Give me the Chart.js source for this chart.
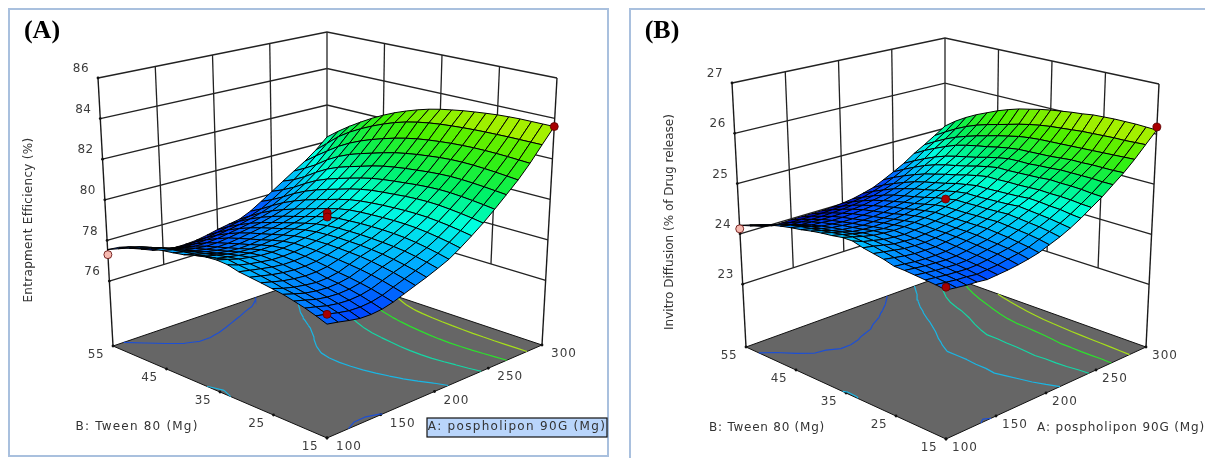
<!DOCTYPE html>
<html lang="en">
<head>
  <meta charset="UTF-8" />
  <title>Response surfaces</title>
  <script src="https://cdn.jsdelivr.net/npm/chart.js"></script>
  <style>
    html, body { margin: 0; padding: 0; background: #fff; overflow: hidden; }
    body { width: 1205px; height: 458px; position: relative; }
    canvas { position: absolute; top: 0; }
    #chartA { left: 0; }
    #chartB { left: 618px; }
    .frame { position: absolute; box-sizing: border-box; border: 0 solid #a9c0de; }
    #frameA { left: 8px; top: 8px; width: 601px; height: 449px; border-width: 2px; }
    #frameB { left: 629px; top: 8px; width: 576px; height: 450px; border-top-width: 2px; border-left-width: 2px; }
  </style>
</head>
<body>
  <div class="frame" id="frameA"></div>
  <div class="frame" id="frameB"></div>
  <canvas id="chartA" width="618" height="458"></canvas>
  <canvas id="chartB" width="587" height="458"></canvas>

  <script>
    // factor levels of the mesh
    const phospholipon = [100,110,120,130,140,150,160,170,180,190,200,210,220,230,240,250,260,270,280,290,300];
    const tween = [15,17,19,21,23,25,27,29,31,33,35,37,39,41,43,45,47,49,51,53,55];

    // tick labels
    const phosphoTicks = [100,150,200,250,300];
    const tweenTicks = [15,25,35,45,55];
    const entrapTicks = [76,78,80,82,84,86];
    const diffusionTicks = [23,24,25,26,27];

    // Entrapment efficiency, one row per tween level, one column per phospholipon level
    const entrapment = [
      [77.68,77.60,77.50,77.42,77.42,77.48,77.62,77.82,78.02,78.22,78.45,78.70,79.05,79.45,79.88,80.37,80.90,81.45,82.10,82.85,83.60],
      [77.87,77.78,77.67,77.59,77.58,77.63,77.76,77.96,78.16,78.36,78.58,78.82,79.16,79.54,79.97,80.44,80.95,81.50,82.13,82.85,83.60],
      [78.04,77.93,77.81,77.74,77.72,77.77,77.89,78.09,78.29,78.47,78.69,78.93,79.25,79.62,80.04,80.50,81.00,81.55,82.16,82.85,83.60],
      [78.18,78.06,77.93,77.86,77.84,77.88,77.99,78.19,78.39,78.57,78.78,79.02,79.33,79.68,80.10,80.55,81.04,81.59,82.18,82.85,83.60],
      [78.31,78.17,78.04,77.97,77.94,77.98,78.08,78.28,78.48,78.65,78.84,79.09,79.39,79.73,80.15,80.59,81.07,81.62,82.19,82.84,83.58],
      [78.40,78.25,78.14,78.07,78.02,78.05,78.15,78.35,78.55,78.71,78.88,79.13,79.42,79.75,80.17,80.60,81.08,81.63,82.19,82.83,83.55],
      [78.49,78.37,78.26,78.19,78.15,78.17,78.25,78.41,78.59,78.75,78.91,79.15,79.43,79.75,80.16,80.58,81.06,81.62,82.17,82.81,83.50],
      [78.57,78.47,78.37,78.30,78.26,78.27,78.33,78.46,78.62,78.77,78.93,79.15,79.42,79.73,80.13,80.54,81.02,81.58,82.14,82.78,83.44],
      [78.65,78.56,78.47,78.39,78.34,78.35,78.40,78.50,78.64,78.78,78.93,79.14,79.40,79.70,80.08,80.48,80.96,81.52,82.09,82.74,83.37],
      [78.80,78.63,78.53,78.46,78.40,78.40,78.44,78.52,78.64,78.77,78.92,79.11,79.37,79.66,80.03,80.42,80.90,81.45,82.03,82.69,83.28],
      [78.85,78.72,78.58,78.50,78.43,78.42,78.45,78.52,78.62,78.74,78.88,79.07,79.32,79.60,79.97,80.35,80.82,81.36,81.95,82.62,83.18],
      [78.82,78.60,78.51,78.42,78.37,78.37,78.39,78.45,78.54,78.67,78.80,78.98,79.22,79.51,79.87,80.26,80.72,81.25,81.84,82.52,83.05],
      [78.72,78.53,78.42,78.31,78.25,78.23,78.26,78.33,78.42,78.55,78.67,78.84,79.07,79.37,79.73,80.12,80.58,81.10,81.70,82.39,82.88],
      [78.58,78.45,78.31,78.18,78.11,78.08,78.11,78.18,78.28,78.40,78.52,78.67,78.90,79.20,79.56,79.96,80.41,80.93,81.53,82.22,82.68],
      [78.50,78.38,78.22,78.07,77.98,77.94,77.97,78.04,78.14,78.25,78.36,78.51,78.73,79.03,79.39,79.79,80.24,80.76,81.34,82.00,82.45],
      [78.43,78.30,78.12,77.95,77.85,77.80,77.82,77.90,78.00,78.10,78.20,78.35,78.55,78.85,79.20,79.60,80.05,80.56,81.12,81.75,82.18],
      [78.33,78.20,78.01,77.84,77.72,77.66,77.67,77.74,77.83,77.92,78.02,78.17,78.35,78.63,78.97,79.36,79.80,80.30,80.85,81.46,81.87],
      [78.18,78.06,77.87,77.69,77.56,77.48,77.48,77.53,77.62,77.71,77.81,77.95,78.12,78.37,78.68,79.04,79.47,79.97,80.52,81.13,81.52],
      [78.00,77.90,77.71,77.52,77.36,77.27,77.25,77.29,77.36,77.46,77.56,77.69,77.84,78.05,78.34,78.68,79.08,79.55,80.12,80.73,81.14],
      [77.78,77.71,77.51,77.32,77.13,77.02,76.98,77.00,77.05,77.15,77.27,77.39,77.50,77.70,78.02,78.38,78.75,79.20,79.70,80.22,80.72],
      [77.55,77.50,77.30,77.10,76.88,76.75,76.68,76.68,76.72,76.82,76.95,77.05,77.15,77.40,77.75,78.12,78.50,78.88,79.25,79.70,80.25]
    ];

    // In vitro diffusion, same layout
    const diffusion = [
      [24.33,24.31,24.29,24.28,24.26,24.28,24.30,24.33,24.37,24.42,24.50,24.58,24.68,24.80,24.94,25.08,25.25,25.42,25.62,25.85,26.08],
      [24.36,24.34,24.32,24.31,24.29,24.31,24.33,24.37,24.41,24.46,24.54,24.62,24.71,24.82,24.95,25.09,25.25,25.41,25.61,25.84,26.09],
      [24.38,24.36,24.34,24.33,24.32,24.33,24.36,24.40,24.44,24.49,24.57,24.65,24.74,24.85,24.97,25.11,25.26,25.41,25.60,25.83,26.10],
      [24.40,24.38,24.36,24.35,24.34,24.35,24.38,24.42,24.46,24.52,24.59,24.67,24.76,24.86,24.98,25.12,25.26,25.41,25.59,25.83,26.10],
      [24.42,24.40,24.38,24.37,24.36,24.37,24.40,24.44,24.48,24.54,24.61,24.69,24.78,24.88,24.98,25.12,25.26,25.40,25.58,25.82,26.10],
      [24.43,24.41,24.39,24.38,24.38,24.39,24.42,24.46,24.50,24.56,24.63,24.71,24.80,24.89,24.99,25.13,25.26,25.40,25.57,25.81,26.09],
      [24.49,24.46,24.43,24.41,24.41,24.41,24.44,24.47,24.51,24.56,24.62,24.70,24.78,24.87,24.98,25.11,25.24,25.38,25.56,25.80,26.08],
      [24.53,24.50,24.47,24.44,24.43,24.43,24.45,24.48,24.51,24.56,24.62,24.69,24.77,24.86,24.97,25.10,25.23,25.36,25.55,25.78,26.05],
      [24.57,24.54,24.50,24.46,24.45,24.44,24.46,24.48,24.52,24.56,24.61,24.69,24.76,24.85,24.97,25.09,25.21,25.35,25.54,25.76,26.03],
      [24.63,24.56,24.52,24.48,24.46,24.45,24.47,24.49,24.52,24.56,24.61,24.68,24.75,24.84,24.96,25.08,25.21,25.34,25.53,25.74,26.00],
      [24.63,24.58,24.53,24.49,24.47,24.46,24.47,24.49,24.52,24.56,24.61,24.68,24.75,24.84,24.96,25.08,25.20,25.33,25.51,25.71,25.97],
      [24.60,24.56,24.51,24.47,24.45,24.43,24.44,24.46,24.49,24.53,24.58,24.64,24.72,24.80,24.92,25.04,25.16,25.30,25.48,25.67,25.93],
      [24.58,24.53,24.48,24.43,24.41,24.40,24.41,24.42,24.45,24.49,24.53,24.60,24.67,24.76,24.87,24.99,25.11,25.26,25.43,25.62,25.88],
      [24.55,24.50,24.44,24.40,24.38,24.36,24.37,24.38,24.40,24.44,24.48,24.54,24.62,24.70,24.81,24.93,25.05,25.21,25.38,25.56,25.83],
      [24.51,24.47,24.41,24.37,24.35,24.33,24.33,24.34,24.36,24.40,24.44,24.49,24.57,24.65,24.76,24.88,25.00,25.17,25.32,25.50,25.76],
      [24.48,24.44,24.38,24.33,24.31,24.29,24.29,24.30,24.32,24.35,24.39,24.44,24.52,24.60,24.70,24.83,24.95,25.12,25.26,25.44,25.68],
      [24.44,24.40,24.33,24.28,24.27,24.25,24.25,24.26,24.28,24.30,24.34,24.39,24.46,24.54,24.64,24.77,24.89,25.06,25.19,25.37,25.58],
      [24.39,24.34,24.27,24.22,24.21,24.20,24.20,24.20,24.22,24.24,24.28,24.32,24.39,24.46,24.56,24.69,24.81,24.97,25.11,25.28,25.48],
      [24.32,24.27,24.20,24.15,24.14,24.13,24.13,24.14,24.15,24.17,24.20,24.24,24.30,24.37,24.47,24.59,24.71,24.87,25.01,25.17,25.36],
      [24.25,24.19,24.12,24.07,24.06,24.06,24.06,24.06,24.07,24.08,24.11,24.14,24.20,24.27,24.37,24.48,24.60,24.76,24.89,25.04,25.22],
      [24.17,24.10,24.03,23.98,23.97,23.98,23.98,23.98,23.98,23.99,24.01,24.04,24.09,24.15,24.25,24.36,24.48,24.63,24.76,24.90,25.05]
    ];

    // design points (phospholipon, tween, response)
    const designA = [300,200,200,100,100];
    const designB = [15,35,35,15,55];
    const designEntrap = [83.6,79.5,79.3,78.1,77.3];
    const designDiffA = [300,200,100,100];
    const designDiffB = [15,35,15,55];
    const designDiff = [26.14,24.76,24.38,24.1];

    // floor contour levels
    const entrapLevels = [77.5,78.8,80.05,81.3,82.55];
    const diffusionLevels = [24.27,24.62,24.98,25.34,25.7];
    const contourColors = ['#1c4fd6','#1ab6e4','#14d8a6','#2ce22c','#a6e01a'];

    // colour ramp for the surface, response value at each stop
    const rampColors = [[0,0,176],[0,72,255],[0,180,255],[0,255,224],[0,240,96],[64,240,0],[200,240,0]];
    const entrapRamp = [76.7,77.5,78.6,79.7,80.8,82.2,83.6];
    const diffusionRamp = [23.97,24.27,24.55,24.85,25.2,25.6,26.1];

    function rampColor(z, stops) {
      let i = 0;
      while (i < stops.length - 2 && z > stops[i + 1]) i++;
      const f = Math.max(0, Math.min(1, (z - stops[i]) / (stops[i + 1] - stops[i])));
      const c = rampColors[i].map((v, k) => Math.round(v + (rampColors[i + 1][k] - v) * f));
      return 'rgb(' + c.join(',') + ')';
    }

    function mix(p, q, f) { return [p[0] + (q[0] - p[0]) * f, p[1] + (q[1] - p[1]) * f]; }

    function buildPanel(cfg) {
      const { floor, top, zFloor, zTop } = cfg;

      // box corners on the page -> 3d projection
      function project(a, b, z) {
        const u = (a - 100) / 200, t = (b - 15) / 40, h = (z - zFloor) / (zTop - zFloor);
        const lo = mix(mix(floor.front, floor.right, u), mix(floor.left, floor.back, u), t);
        const hi = mix(mix(top.front, top.right, u), mix(top.left, top.back, u), t);
        const p = mix(lo, hi, h);
        return { x: p[0], y: p[1] };
      }

      const sets = [];
      const line = (data, color, width) => sets.push({
        data, showLine: true, borderColor: color, borderWidth: width, pointRadius: 0, fill: false, tension: 0
      });

      // walls
      cfg.zTicks.forEach(z => line([project(100, 55, z), project(300, 55, z), project(300, 15, z)], '#222', 1.3));
      const zLow = cfg.zTicks[0];
      [150, 200, 250].forEach(a => line([project(a, 55, zLow), project(a, 55, zTop)], '#222', 1.3));
      [25, 35, 45].forEach(b => line([project(300, b, zLow), project(300, b, zTop)], '#222', 1.3));
      line([project(100, 55, zFloor), project(100, 55, zTop)], '#1a1a1a', 1.4);
      line([project(300, 55, zFloor), project(300, 55, zTop)], '#333', 1.4);
      line([project(300, 15, zFloor), project(300, 15, zTop)], '#1a1a1a', 1.4);

      // floor
      sets.push({
        data: [project(100, 15, zFloor), project(300, 15, zFloor), project(300, 55, zFloor), project(100, 55, zFloor), project(100, 15, zFloor)],
        showLine: true, borderColor: '#111', borderWidth: 1, backgroundColor: '#666666', fill: 'shape', pointRadius: 0, tension: 0
      });

      // small tick marks along the axes
      sets.push({
        data: [
          ...tweenTicks.map(b => project(100, b, zFloor)),
          ...phosphoTicks.map(a => project(a, 15, zFloor)),
          ...cfg.zTicks.map(z => project(100, 55, z))
        ],
        showLine: false, pointRadius: 1.4, backgroundColor: '#111', borderWidth: 0
      });

      // contours on the floor
      cfg.levels.forEach((level, n) => {
        const pts = [];
        for (let j = 0; j < tween.length - 1; j++) {
          for (let i = 0; i < phospholipon.length - 1; i++) {
            const c = [[i, j], [i + 1, j], [i + 1, j + 1], [i, j + 1]];
            const hits = [];
            for (let k = 0; k < 4; k++) {
              const p = c[k], q = c[(k + 1) % 4];
              const zp = cfg.grid[p[1]][p[0]], zq = cfg.grid[q[1]][q[0]];
              if ((zp < level) !== (zq < level)) {
                const f = (level - zp) / (zq - zp);
                hits.push(project(
                  phospholipon[p[0]] + (phospholipon[q[0]] - phospholipon[p[0]]) * f,
                  tween[p[1]] + (tween[q[1]] - tween[p[1]]) * f, zFloor));
              }
            }
            for (let k = 0; k + 1 < hits.length; k += 2) pts.push(hits[k], hits[k + 1], { x: NaN, y: NaN });
          }
        }
        line(pts, contourColors[n], 1.2);
      });

      // surface, back corner first
      const cells = [];
      for (let j = 0; j < tween.length - 1; j++) {
        for (let i = 0; i < phospholipon.length - 1; i++) cells.push([i, j]);
      }
      cells.sort((p, q) => (q[0] + q[1]) - (p[0] + p[1]));
      cells.forEach(([i, j]) => {
        const g = cfg.grid;
        const avg = (g[j][i] + g[j][i + 1] + g[j + 1][i + 1] + g[j + 1][i]) / 4;
        sets.push({
          data: [
            project(phospholipon[i], tween[j], g[j][i]),
            project(phospholipon[i + 1], tween[j], g[j][i + 1]),
            project(phospholipon[i + 1], tween[j + 1], g[j + 1][i + 1]),
            project(phospholipon[i], tween[j + 1], g[j + 1][i]),
            project(phospholipon[i], tween[j], g[j][i])
          ],
          showLine: true, borderColor: '#000', borderWidth: 1, backgroundColor: rampColor(avg, cfg.ramp),
          fill: 'shape', pointRadius: 0, tension: 0
        });
      });

      // design points
      sets.push({
        data: cfg.pointA.map((a, i) => project(a, cfg.pointB[i], cfg.pointZ[i])),
        showLine: false, pointRadius: 4, borderColor: '#5a0000', borderWidth: 0.8,
        backgroundColor: cfg.pointA.map((a, i) => (i === cfg.pointA.length - 1 ? '#f6b9b0' : '#a80000'))
      });

      const xMin = cfg.left, xMax = cfg.left + cfg.width;

      const axisText = {
        id: 'axisText',
        afterDraw(chart) {
          const ctx = chart.ctx, sx = chart.scales.x, sy = chart.scales.y;
          const put = (text, x, y, font, color, spacing) => {
            ctx.font = font;
            ctx.fillStyle = color;
            ctx.letterSpacing = spacing || '0px';
            ctx.textAlign = 'center';
            ctx.textBaseline = 'middle';
            ctx.fillText(text, sx.getPixelForValue(x), sy.getPixelForValue(y));
          };
          const tick = '12px "DejaVu Sans"';
          ctx.save();
          cfg.zTicks.forEach(z => {
            const p = project(100, 55, z);
            put(String(z), p.x - 17, p.y - 9, tick, '#3c3c3c', '0.5px');
          });
          tweenTicks.forEach(b => {
            const p = project(100, b, zFloor);
            put(String(b), p.x - 17, p.y + cfg.tickDrop, tick, '#3c3c3c', '0.5px');
          });
          phosphoTicks.forEach(a => {
            const p = project(a, 15, zFloor);
            put(String(a), p.x + cfg.aTickShift, p.y + cfg.tickDrop, tick, '#3c3c3c', '1px');
          });
          if (cfg.selected) {
            const s = cfg.selected;
            ctx.fillStyle = '#b9d5fb';
            ctx.strokeStyle = '#111';
            ctx.lineWidth = 1.2;
            ctx.fillRect(sx.getPixelForValue(s.x), sy.getPixelForValue(s.y), s.w, s.h);
            ctx.strokeRect(sx.getPixelForValue(s.x), sy.getPixelForValue(s.y), s.w, s.h);
          }
          put(cfg.aTitle.text, cfg.aTitle.x, cfg.aTitle.y, tick, '#333', cfg.aTitle.spacing);
          put(cfg.bTitle.text, cfg.bTitle.x, cfg.bTitle.y, tick, '#333', cfg.bTitle.spacing);
          put(cfg.tag.text, cfg.tag.x, cfg.tag.y, 'bold 26px "Liberation Serif"', '#000');

          // response axis title runs upwards
          ctx.save();
          ctx.translate(sx.getPixelForValue(cfg.zTitle.x), sy.getPixelForValue(cfg.zTitle.y));
          ctx.rotate(-Math.PI / 2);
          ctx.font = tick;
          ctx.letterSpacing = cfg.zTitle.spacing;
          ctx.fillStyle = '#333';
          ctx.textAlign = 'center';
          ctx.textBaseline = 'middle';
          ctx.fillText(cfg.zTitle.text, 0, 0);
          ctx.restore();
          ctx.restore();
        }
      };

      // first dataset is painted last
      new Chart(document.getElementById(cfg.canvas), {
        type: 'scatter',
        data: { datasets: sets.reverse() },
        plugins: [axisText],
        options: {
          responsive: false,
          animation: false,
          events: [],
          clip: false,
          layout: { padding: 0, autoPadding: false },
          plugins: { legend: { display: false }, tooltip: { enabled: false }, title: { display: false } },
          scales: {
            x: { type: 'linear', min: xMin, max: xMax, display: false },
            y: { type: 'linear', min: 0, max: 458, reverse: true, display: false }
          }
        }
      });
    }

    buildPanel({
      canvas: 'chartA', left: 0, width: 618,
      grid: entrapment, ramp: entrapRamp, levels: entrapLevels, zTicks: entrapTicks, zFloor: 72.8, zTop: 86,
      floor: { front: [327, 438], right: [542, 345], left: [113, 346], back: [327, 273] },
      top: { front: [327, 130], right: [557, 78], left: [98, 78], back: [327, 32] },
      pointA: designA, pointB: designB, pointZ: designEntrap,
      tickDrop: 9, aTickShift: 22,
      selected: { x: 427, y: 418, w: 180, h: 19 },
      tag: { text: '(A)', x: 42, y: 31 },
      aTitle: { text: 'A: pospholipon 90G (Mg)', x: 517, y: 427, spacing: '1.3px' },
      bTitle: { text: 'B: Tween 80 (Mg)', x: 137, y: 427, spacing: '1.2px' },
      zTitle: { text: 'Entrapment Efficiency (%)', x: 29, y: 220, spacing: '0.3px' }
    });

    buildPanel({
      canvas: 'chartB', left: 618, width: 587,
      grid: diffusion, ramp: diffusionRamp, levels: diffusionLevels, zTicks: diffusionTicks, zFloor: 21.75, zTop: 27,
      floor: { front: [946, 439], right: [1146, 347], left: [746, 347], back: [945, 275] },
      top: { front: [946, 136], right: [1159, 84], left: [732, 83], back: [945, 38] },
      pointA: designDiffA, pointB: designDiffB, pointZ: designDiff,
      tickDrop: 9, aTickShift: 19,
      tag: { text: '(B)', x: 662, y: 31 },
      aTitle: { text: 'A: pospholipon 90G (Mg)', x: 1121, y: 428, spacing: '0.85px' },
      bTitle: { text: 'B: Tween 80 (Mg)', x: 767, y: 428, spacing: '0.75px' },
      zTitle: { text: 'Invitro Diffusion (% of Drug release)', x: 670, y: 222, spacing: '0px' }
    });
  </script>
</body>
</html>
